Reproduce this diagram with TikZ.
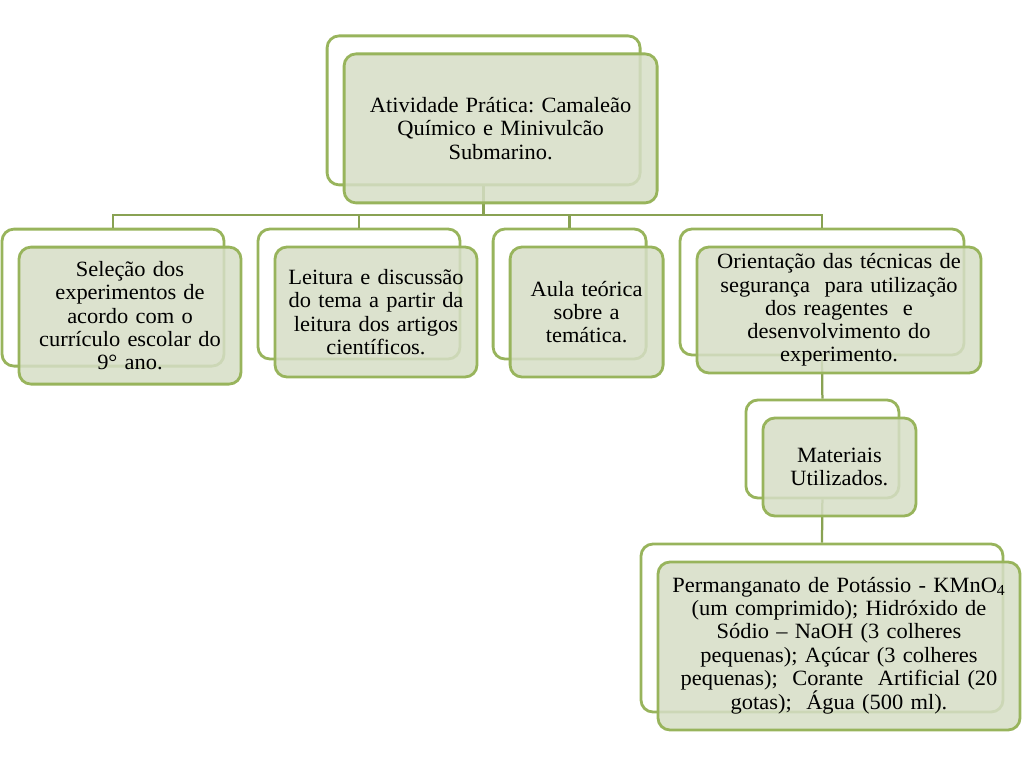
\documentclass[tikz,border=0pt]{standalone}
\usepackage{fontspec}
\setmainfont[FakeStretch=1.03,WordSpace=0.5]{Liberation Serif}
\frenchspacing
\definecolor{boxline}{RGB}{152,180,92}
\definecolor{boxfill}{RGB}{214,222,198}
\tikzstyle{backbox}=[draw=boxline,line width=2pt,rounded corners=8.5pt,fill=white]
\tikzstyle{frontbox}=[draw=boxline,line width=2pt,rounded corners=8.5pt,fill=boxfill,fill opacity=.85,text opacity=1,align=center,inner xsep=.1cm,font=\fontsize{15.5}{16.5}\selectfont]
\tikzstyle{link}=[draw=boxline!90!black,line width=1.6pt]

\begin{document}
\begin{tikzpicture}
  \useasboundingbox (0,0) rectangle (25.6,-19.2);
  % back boxes
  \node[backbox,minimum width=7.825cm,minimum height=3.725cm] (topb) at (12.09,-2.76) {};
  \node[backbox,minimum width=5.55cm,minimum height=3.425cm]  (selb) at (2.825,-7.44) {};
  \node[backbox,minimum width=5.05cm,minimum height=3.25cm]   (leitb) at (8.975,-7.35) {};
  \node[backbox,minimum width=3.825cm,minimum height=3.25cm]  (aulab) at (14.24,-7.35) {};
  \node[backbox,minimum width=7.1cm,minimum height=3.15cm]    (orib) at (20.55,-7.3) {};
  \node[backbox,minimum width=3.825cm,minimum height=2.45cm]  (matb) at (20.56,-11.225) {};
  \node[backbox,minimum width=9.05cm,minimum height=4.2cm]    (listb) at (20.55,-15.7) {};

  % connectors
  \coordinate (bus) at (0,-5.375);
  \draw[link] (topb.south) -- (topb.south |- bus);
  \draw[link] (selb.north) |- (bus -| orib.north) -- (orib.north);
  \draw[link] (leitb.north) -- (leitb.north |- bus);
  \draw[link] (aulab.north) -- (aulab.north |- bus);
  \draw[link] (orib.south) -- (matb.north);
  \draw[link] (matb.south) -- (listb.north);

  % front boxes
  \node[frontbox,text width=7.625cm,minimum height=3.725cm] (top) at ([shift={(.425,-.45)}]topb.center)
    {Atividade Prática: Camaleão\\ Químico e Minivulcão\\ Submarino.};
  \node[frontbox,text width=5.35cm,minimum height=3.425cm] (sel) at ([shift={(.425,-.45)}]selb.center)
    {Seleção dos\\ experimentos de\\ acordo com o\\ currículo escolar do\\ 9° ano.};
  \node[frontbox,text width=4.85cm,minimum height=3.25cm] (leit) at ([shift={(.425,-.45)}]leitb.center)
    {Leitura e discussão\\ do tema a partir da\\ leitura dos artigos\\ científicos.};
  \node[frontbox,text width=3.625cm,minimum height=3.25cm] (aula) at ([shift={(.425,-.45)}]aulab.center)
    {Aula teórica\\ sobre a\\ temática.};
  \node[frontbox,text width=6.9cm,minimum height=3.15cm] (ori) at ([shift={(.425,-.45)}]orib.center)
    {Orientação das técnicas de\\ segurança\ \ para utilização\\ dos reagentes\ \ e\\ desenvolvimento do\\ experimento.};
  \node[frontbox,text width=3.625cm,minimum height=2.45cm] (mat) at ([shift={(.425,-.45)}]matb.center)
    {Materiais\\ Utilizados.};
  \node[frontbox,text width=8.85cm,minimum height=4.2cm] (list) at ([shift={(.425,-.45)}]listb.center)
    {Permanganato de Potássio - KMnO\textsubscript{4}\\ (um comprimido); Hidróxido de\\ Sódio -- NaOH (3 colheres\\ pequenas); Açúcar (3 colheres\\ pequenas);\ \ Corante\ \ Artificial (20\\ gotas);\ \ Água (500 ml).};
\end{tikzpicture}
\end{document}
